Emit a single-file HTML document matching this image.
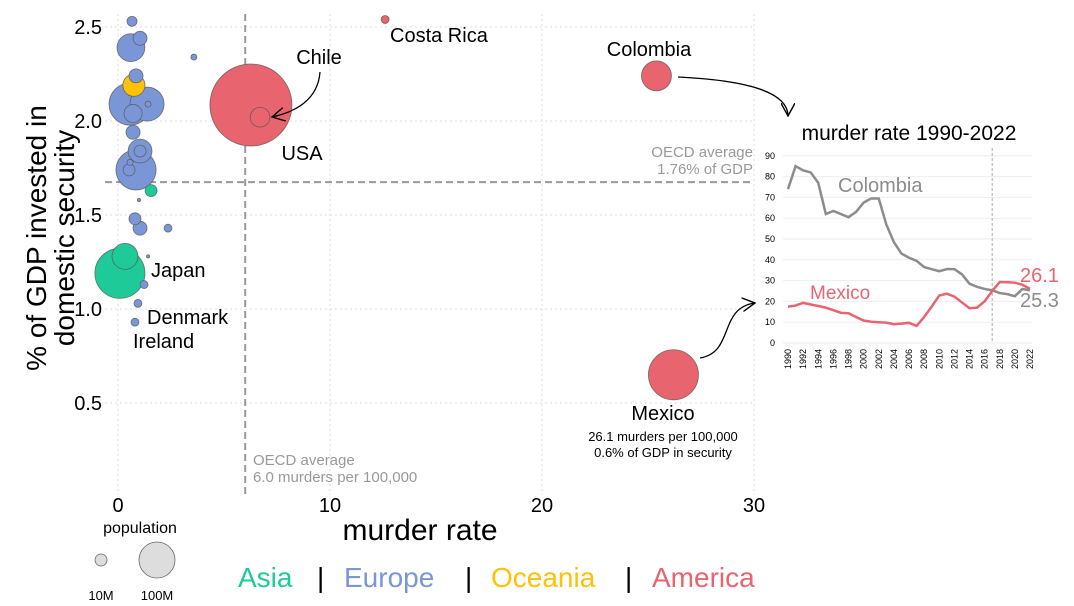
<!DOCTYPE html>
<html><head><meta charset="utf-8"><style>
html,body{margin:0;padding:0;background:#fff;}
svg{display:block;font-family:"Liberation Sans Narrow","Liberation Sans",sans-serif;}
</style></head><body>
<svg id="chart" width="1074" height="606" viewBox="0 0 1074 606" xmlns="http://www.w3.org/2000/svg">
<defs>
<marker id="arr" viewBox="0 0 12 12" refX="11" refY="6" markerWidth="14" markerHeight="14" orient="auto" markerUnits="userSpaceOnUse"><path d="M0,0 L11,6 L0,12" fill="none" stroke="#000" stroke-width="1.2"/></marker>
</defs>
<g id="grid"></g>
<g id="refs"></g>
<g id="bubbles"></g>
<g id="axes"></g>
<g id="inset"></g>

<text x="319" y="64" font-size="20" text-anchor="middle">Chile</text>
<path d="M320,72 C318,100 295,112 272,117" fill="none" stroke="#000" stroke-width="1.3" marker-end="url(#arr)"/>
<text x="302" y="160" font-size="20" text-anchor="middle">USA</text>
<text x="390" y="42" font-size="20">Costa Rica</text>
<text x="649" y="56" font-size="20" text-anchor="middle">Colombia</text>
<path d="M678,77 C740,80 788,90 788,116" fill="none" stroke="#000" stroke-width="1.3" marker-end="url(#arr)"/>
<path d="M700,358 C735,352 718,308 755,303" fill="none" stroke="#000" stroke-width="1.3" marker-end="url(#arr)"/>
<text x="663" y="420" font-size="20" text-anchor="middle">Mexico</text>
<text x="663" y="441" font-size="13" text-anchor="middle">26.1 murders per 100,000</text>
<text x="663" y="457" font-size="13" text-anchor="middle">0.6% of GDP in security</text>
<text x="151" y="277" font-size="20">Japan</text>
<text x="147" y="324" font-size="20">Denmark</text>
<text x="133" y="348" font-size="20">Ireland</text>
<text x="753" y="157" font-size="15" fill="#999" text-anchor="end">OECD average</text>
<text x="753" y="174" font-size="15" fill="#999" text-anchor="end">1.76% of GDP</text>
<text x="253" y="465" font-size="15" fill="#999">OECD average</text>
<text x="253" y="482" font-size="15" fill="#999">6.0 murders per 100,000</text>

<text x="420" y="540" font-size="30" text-anchor="middle">murder rate</text>
<g transform="translate(46,238) rotate(-90)">
<text x="0" y="0" font-size="28" text-anchor="middle">% of GDP invested in</text>
<text x="0" y="28" font-size="28" text-anchor="middle">domestic security</text>
</g>

<g>
<text x="140" y="533" font-size="16" text-anchor="middle">population</text>
<circle cx="101" cy="560" r="6" fill="#ddd" stroke="#666" stroke-width="0.8"/>
<circle cx="157" cy="560" r="18" fill="#ddd" stroke="#666" stroke-width="0.8"/>
<text x="101" y="600" font-size="13" text-anchor="middle">10M</text>
<text x="157" y="600" font-size="13" text-anchor="middle">100M</text>
</g>
<g font-size="28">
<text x="238" y="587" fill="#1ecb98">Asia</text>
<text x="317" y="587" fill="#000">|</text>
<text x="344" y="587" fill="#7b96d6">Europe</text>
<text x="465" y="587" fill="#000">|</text>
<text x="491" y="587" fill="#ffc107">Oceania</text>
<text x="625" y="587" fill="#000">|</text>
<text x="652" y="587" fill="#e8646e">America</text>
</g>
</svg>
<script>
// main scatter data
const murderRate=[0.66,0.61,1.04,3.58,0.85,0.75,0.57,1.37,0.71,1.42,0.71,1.04,1.04,0.85,0.52,0.57,1.56,0.99,0.80,1.04,2.36,0.33,0.09,1.42,1.23,0.94,0.80,6.27,6.7,12.6,25.4,26.2];
const gdpShare=[2.53,2.39,2.44,2.34,2.24,2.19,2.09,2.09,2.04,2.09,1.94,1.84,1.84,1.74,1.74,1.78,1.63,1.58,1.48,1.43,1.43,1.28,1.19,1.28,1.13,1.03,0.93,2.085,2.02,2.54,2.24,0.65];
const population=[4.9,38,9.6,1.8,9.6,24,87,57,16,1.8,9.6,28,7,79,7,1.8,7,0.5,7,9.6,3.1,33,123,0.5,3.1,3.1,3.1,330,19,3.1,44,123];
const continent=["Europe","Europe","Europe","Europe","Europe","Oceania","Europe","Europe","Europe","Europe","Europe","Europe","Europe","Europe","Europe","Europe","Asia","Europe","Europe","Europe","Europe","Asia","Asia","Europe","Europe","Europe","Europe","America","America","America","America","America"];
const xTicks=[0,10,20,30];
const yTicks=[0.5,1.0,1.5,2.0,2.5];
const oecdMurder=6.0;
const oecdGdpLine=1.675;
// inset data
const years=[];for(let y=1990;y<=2022;y++)years.push(y);
const colombia=[74,85,83,82,77,62,63.5,62,60.5,63,67.5,69.5,69.5,57,48.5,43,41,39.5,36.5,35.5,34.5,35.5,35.5,33,28.5,27,26,25.3,24,23.5,22.5,26,25.3];
const mexico=[17.5,18,19.3,18.5,17.8,17,15.8,14.5,14.3,12.5,10.8,10.2,10,9.8,9,9.3,9.7,8.2,12.5,17.5,22.8,23.7,22.3,19.5,16.7,17,20,25,29.3,29.2,29,28,26.1];
const insetYTicks=[0,10,20,30,40,50,60,70,80,90];
const insetMarkYear=2017;

const NS="http://www.w3.org/2000/svg";
const colors={Asia:"#1ecb98",Europe:"#7b96d6",Oceania:"#ffc107",America:"#e8646e"};
function el(tag,attrs,parent){const e=document.createElementNS(NS,tag);for(const k in attrs)e.setAttribute(k,attrs[k]);parent.appendChild(e);return e;}
const X=v=>118+v*21.2, Y=v=>121-(v-2)*188, R=p=>2.257*Math.sqrt(p);
const grid=document.getElementById('grid');
xTicks.forEach(t=>{const l=el('line',{x1:X(t),x2:X(t),y1:14,y2:495,stroke:'#ddd','stroke-dasharray':'2,3'},grid);

});
yTicks.forEach(t=>{const l=el('line',{x1:105,x2:754,y1:Y(t),y2:Y(t),stroke:'#ddd','stroke-dasharray':'2,3'},grid);

});
const refs=document.getElementById('refs');
const v=el('line',{x1:X(oecdMurder),x2:X(oecdMurder),y1:14,y2:495,stroke:'#999','stroke-width':2,'stroke-dasharray':'7,4'},refs);


const h=el('line',{x1:105,x2:754,y1:Y(oecdGdpLine),y2:Y(oecdGdpLine),stroke:'#999','stroke-width':2,'stroke-dasharray':'7,4'},refs);


const bub=document.getElementById('bubbles');
const idx=population.map((p,i)=>i).sort((a,b)=>population[b]-population[a]);
idx.forEach(i=>{const c=el('circle',{cx:X(murderRate[i]),cy:Y(gdpShare[i]),r:R(population[i]),fill:colors[continent[i]],stroke:'#555','stroke-width':0.8,'stroke-opacity':0.8},bub);

});
const axes=document.getElementById('axes');
xTicks.forEach(t=>{const tx=el('text',{x:X(t),y:512,'font-size':20,'text-anchor':'middle'},axes);tx.textContent=t;

});
yTicks.forEach(t=>{const tx=el('text',{x:102,y:Y(t)+7,'font-size':20,'text-anchor':'end'},axes);tx.textContent=t.toFixed(1);

});
// inset
const ins=document.getElementById('inset');
const IX=y=>788+(y-1990)*(242/32), IY=v=>343-v*2.08;
const tt=el('text',{x:909,y:140,'font-size':21,'text-anchor':'middle'},ins);tt.textContent='murder rate 1990-2022';


insetYTicks.forEach(t=>{const l=el('line',{x1:783,x2:1032,y1:IY(t),y2:IY(t),stroke:'#eee'},ins);


const tx=el('text',{x:775,y:IY(t)+3,'font-size':9,'text-anchor':'end'},ins);tx.textContent=t;

});
years.filter(y=>y%2===0).forEach(y=>{const tx=el('text',{x:0,y:0,'font-size':9,'text-anchor':'end',transform:`translate(${IX(y)+3},349) rotate(-90)`},ins);tx.textContent=y;

});
const ml=el('line',{x1:IX(insetMarkYear),x2:IX(insetMarkYear),y1:148,y2:343,stroke:'#aaa','stroke-dasharray':'3,2'},ins);


const pc=el('polyline',{points:colombia.map((v,i)=>IX(years[i])+','+IY(v)).join(' '),fill:'none',stroke:'#8c8c8c','stroke-width':2.5},ins);


const pm=el('polyline',{points:mexico.map((v,i)=>IX(years[i])+','+IY(v)).join(' '),fill:'none',stroke:'#e8646e','stroke-width':2.5},ins);


const lc=el('text',{x:838,y:192,'font-size':20,fill:'#8c8c8c'},ins);lc.textContent='Colombia';


const lm=el('text',{x:810,y:299,'font-size':19,fill:'#e8646e'},ins);lm.textContent='Mexico';


const vm=el('text',{x:1020,y:282,'font-size':20,fill:'#e8646e'},ins);vm.textContent=mexico[mexico.length-1].toFixed(1);


const vc=el('text',{x:1020,y:307,'font-size':20,fill:'#8c8c8c'},ins);vc.textContent=colombia[colombia.length-1].toFixed(1);


</script>
</body></html>
